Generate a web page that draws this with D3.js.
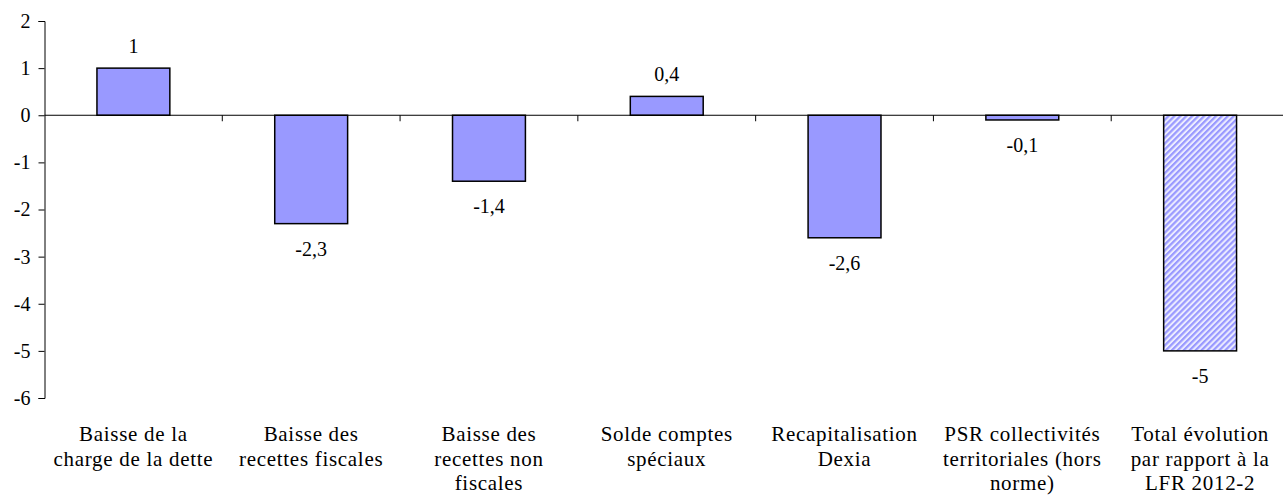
<!DOCTYPE html>
<html>
<head>
<meta charset="utf-8">
<script src="https://cdn.jsdelivr.net/npm/d3@7"></script>
<style>
  body { margin: 0; background: #fff; }
</style>
</head>
<body>
<div id="chart"></div>
<script>
const categories = [
  ["Baisse de la", "charge de la dette"],
  ["Baisse des", "recettes fiscales"],
  ["Baisse des", "recettes non", "fiscales"],
  ["Solde comptes", "spéciaux"],
  ["Recapitalisation", "Dexia"],
  ["PSR collectivités", "territoriales (hors", "norme)"],
  ["Total évolution", "par rapport à la", "LFR 2012-2"]
];
const values = [1, -2.3, -1.4, 0.4, -2.6, -0.1, -5];
const valueLabels = ["1", "-2,3", "-1,4", "0,4", "-2,6", "-0,1", "-5"];
const yTicks = [2, 1, 0, -1, -2, -3, -4, -5, -6];

const width = 1283, height = 501;
const x0 = 44.5, x1 = 1289, yTop = 21, yBot = 398;
const serif = '"Liberation Serif"';

const svg = d3.select("#chart").append("svg")
  .attr("width", width).attr("height", height);

// hatch pattern for the total bar
const defs = svg.append("defs");
const pat = defs.append("pattern")
  .attr("id", "hatch")
  .attr("patternUnits", "userSpaceOnUse")
  .attr("width", 4.2).attr("height", 4.2)
  .attr("patternTransform", "rotate(45)");
pat.append("rect").attr("width", 4.2).attr("height", 4.2).attr("fill", "#ececff");
pat.append("rect").attr("width", 2.2).attr("height", 4.2).attr("fill", "#9999ff");

const x = d3.scaleBand()
  .domain(d3.range(categories.length))
  .range([x0, x1])
  .paddingInner(0.59).paddingOuter(0.295);

const y = d3.scaleLinear().domain([-6, 2]).range([yBot, yTop]);

// y axis
const yAxis = svg.append("g")
  .attr("transform", `translate(${x0},0)`)
  .call(d3.axisLeft(y).tickValues(yTicks).tickSize(6).tickFormat(d => String(d)));
yAxis.select(".domain").attr("stroke", "#000");
yAxis.selectAll(".tick line").attr("stroke", "#000");
yAxis.selectAll(".tick text")
  .attr("x", -14)
  .attr("fill", "#000")
  .style("font-family", serif)
  .style("font-size", "20px");

// bars
svg.selectAll(".bar")
  .data(values)
  .join("rect")
  .attr("class", "bar")
  .attr("x", (d, i) => x(i))
  .attr("width", x.bandwidth())
  .attr("y", d => y(Math.max(0, d)))
  .attr("height", d => Math.abs(y(d) - y(0)))
  .attr("fill", (d, i) => i === values.length - 1 ? "url(#hatch)" : "#9999ff")
  .attr("stroke", "#000")
  .attr("stroke-width", 1.5);

// zero line with category ticks
const xAxis = svg.append("g")
  .attr("transform", `translate(0,${y(0)})`);
xAxis.append("line")
  .attr("x1", x0).attr("x2", x1)
  .attr("stroke", "#000").attr("stroke-width", 1);
const step = x.step();
xAxis.selectAll(".ctick")
  .data(d3.range(1, categories.length))
  .join("line")
  .attr("class", "ctick")
  .attr("x1", i => x0 + i * step).attr("x2", i => x0 + i * step)
  .attr("y1", 0).attr("y2", 6)
  .attr("stroke", "#000");

// value labels
svg.selectAll(".vlabel")
  .data(values)
  .join("text")
  .attr("class", "vlabel")
  .attr("x", (d, i) => x(i) + x.bandwidth() / 2)
  .attr("y", d => d >= 0 ? y(d) - 15 : y(d) + 32)
  .attr("text-anchor", "middle")
  .style("font-family", serif)
  .style("font-size", "20px")
  .text((d, i) => valueLabels[i]);

// category labels
const cl = svg.selectAll(".clabel")
  .data(categories)
  .join("text")
  .attr("class", "clabel")
  .attr("text-anchor", "middle")
  .style("font-family", serif)
  .style("font-size", "21px")
  .style("letter-spacing", "0.7px");
cl.each(function(lines, i) {
  const t = d3.select(this);
  lines.forEach((ln, j) => {
    t.append("tspan")
      .attr("x", x(i) + x.bandwidth() / 2)
      .attr("y", 441 + j * 24.5)
      .text(ln);
  });
});
</script>
</body>
</html>
